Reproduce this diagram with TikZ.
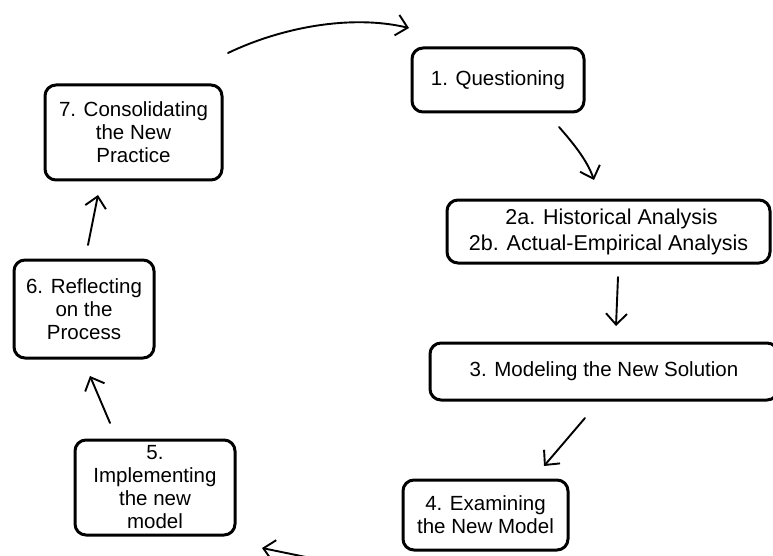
\documentclass[tikz,border=0pt]{standalone}
\usepackage{fontspec}
\setmainfont{Liberation Sans}
\usetikzlibrary{arrows.meta}
\begin{document}
\begin{tikzpicture}[x=1pt,y=-1pt,
  stagebox/.style={draw=black, line width=3pt, rounded corners=11pt,
    fill=white, align=center, inner sep=0pt,
    font=\fontsize{20.5}{23}\selectfont},
  flow/.style={line width=1.9pt, line cap=round,
    -{Straight Barb[length=11pt,width=21pt,line width=1.9pt]}}]
\clip (0,0) rectangle (773,556);
\useasboundingbox (0,0) rectangle (773,556);

% stages of the cycle
\node[stagebox, minimum width=172pt, minimum height=64pt] (q1) at (498,80) {1. Questioning};
\node[stagebox, minimum width=323pt, minimum height=63pt,
  font=\fontsize{21.5}{26}\selectfont] (q2) at (608.5,231.5)
  {\hspace*{6pt}2a. Historical Analysis\\2b. Actual-Empirical Analysis};
\node[stagebox, minimum width=348pt, minimum height=57pt] (q3) at (604,371.5)
  {3. Modeling the New Solution};
\node[stagebox, minimum width=165pt, minimum height=70pt] (q4) at (485.5,515)
  {4. Examining\\the New Model};
\node[stagebox, minimum width=160pt, minimum height=95pt] (q5) at (155,487.5)
  {5.\\Implementing\\the new\\model};
\node[stagebox, minimum width=140pt, minimum height=98pt] (q6) at (84,309)
  {6. Reflecting\\on the\\Process};
\node[stagebox, minimum width=177pt, minimum height=95pt] (q7) at (133.5,132.5)
  {7. Consolidating\\the New\\Practice};

% free ends of the connectors
\coordinate (a71) at (228,53);  \coordinate (b71) at (409,28);
\coordinate (a12) at (559,127); \coordinate (b12) at (594,180);
\coordinate (a23) at (618,277); \coordinate (b23) at (616,326);
\coordinate (a34) at (585,418); \coordinate (b34) at (544,466);
\coordinate (a45) at (330,562); \coordinate (b45) at (262,548);
\coordinate (a56) at (110,423); \coordinate (b56) at (90,376);
\coordinate (a67) at (88,245);  \coordinate (b67) at (98,195);

% connectors
\draw[flow] (a71) .. controls (280,28) and (350,14) .. (b71);
\draw[flow] (a12) .. controls (573,143) and (587,160) .. (b12);
\draw[flow] (a23) -- (b23);
\draw[flow] (a34) -- (b34);
\draw[flow] (a45) -- (b45);
\draw[flow] (a56) -- (b56);
\draw[flow] (a67) -- (b67);
\end{tikzpicture}
\end{document}
